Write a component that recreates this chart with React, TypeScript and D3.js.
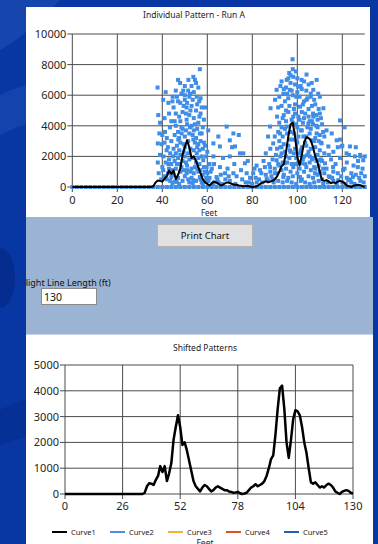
import { useEffect, useRef } from "react"
import * as d3 from "d3"

// curve1: averaged pattern, one reading per foot (0..130)
const curveFeet = d3.range(0, 131)
const curve1 = [
  0, 0, 0, 0, 0, 0, 0, 0, 0, 0,
  0, 0, 0, 0, 0, 0, 0, 0, 0, 0,
  0, 0, 0, 0, 0, 0, 0, 0, 0, 0,
  0, 0, 0, 0, 0, 0, 50, 300, 420, 400,
  350, 550, 700, 1080, 850, 1080, 500, 800, 1200, 2100,
  2600, 3050, 2600, 1900, 2000, 1700, 1300, 900, 500, 300,
  200, 100, 250, 350, 300, 200, 100, 150, 250, 300,
  250, 200, 150, 150, 100, 80, 50, 60, 80, 30,
  0, 20, 50, 150, 250, 300, 380, 300, 350, 400,
  500, 700, 1000, 1350, 1500, 2300, 3300, 4100, 4200, 3300,
  2000, 1400, 2100, 2900, 3250, 3200, 3050, 2600, 2000, 1600,
  1000, 450, 400, 450, 350, 250, 300, 250, 350, 400,
  350, 250, 100, 50, 0, 80, 120, 150, 120, 50,
  20,
]

// individual readings of Run A [feet, value]
const zeroFeet = [
  0, 2, 4, 6, 8, 10, 12, 14, 16, 18, 20, 22, 24, 26, 28, 30, 32, 34, 36, 38,
  40, 42, 44, 46, 48, 50, 52, 54, 56, 58, 60, 62, 64, 66, 68, 70, 72, 74, 76, 78,
  80, 82, 84, 86, 88, 90, 92, 94, 96, 98, 100, 102, 104, 106, 108, 110, 112, 114,
  116, 118, 120, 122, 124, 126, 128, 130,
]
const runA: [number, number][] = [
  [37.9, 6500], [41.5, 6200], [38.2, 4700], [38.7, 3500], [38, 2850], [38, 1600], [38.4, 900],
  [40.4, 5700], [42.7, 5500], [44.6, 5900], [43.4, 3900], [41.2, 3600], [39.7, 2800], [41.9, 2400],
  [44.9, 2000], [42.7, 1500], [40.4, 1100], [44, 650], [47.9, 6800], [49.3, 6300], [50, 5700],
  [50.8, 5200], [51.6, 7000], [52.3, 6100], [53, 6600], [53.8, 7200], [55.3, 5900], [56.7, 7700],
  [54.5, 7000], [56.4, 5600], [50.8, 4400], [52.3, 3900], [48.6, 3500], [47.1, 3100], [50, 2600],
  [53.8, 3100], [56.7, 3500], [55.3, 2200], [58.2, 1750], [59.7, 1300], [60.4, 3700], [47.9, 1500],
  [50.8, 900], [53.8, 450], [56.7, 650], [46.4, 330], [62.7, 2000], [62.7, 2850], [64.9, 3300],
  [65.6, 2650], [68.6, 3950], [70, 3050], [71.6, 3500], [70, 2000], [72.3, 2650], [74.5, 2200],
  [76.7, 1550], [77.5, 900], [65.6, 1300], [67.9, 900], [71.6, 900], [64.1, 650], [59.7, 450],
  [80.4, 900], [83.4, 1100], [81.9, 1400], [85.6, 1300], [86.4, 550],
  [45, 5200], [46, 4800], [47, 5600], [48, 4300], [49, 4900], [50, 6000], [51, 5500], [52, 4700],
  [53, 5300], [54, 4500], [55, 5000], [56, 4200], [57, 4800], [58, 3900], [46, 4000], [47, 3600],
  [48, 2900], [49, 3800], [50, 3300], [51, 4100], [52, 3500], [53, 4000], [54, 3700], [55, 3200],
  [56, 2800], [57, 3000], [58, 2500], [59, 2700], [44, 3000], [45, 2500], [46, 2200], [47, 1900],
  [48, 2100], [49, 1700], [50, 2000], [51, 1400], [52, 1800], [53, 1200], [54, 2400], [55, 1600],
  [56, 1900], [57, 1100], [58, 800], [59, 1000], [60, 2300], [61, 1500], [43, 1800], [42, 3200],
  [41, 2900], [40, 3400], [39, 2100], [40, 1300], [41, 700], [42, 500], [43, 1200], [44, 1500],
  [45, 800], [46, 1200], [47, 600], [48, 1000], [49, 400], [50, 700], [51, 1100], [52, 300],
  [53, 600], [54, 900], [55, 400], [56, 1000], [57, 500], [58, 200], [60, 900], [61, 600],
  [62, 1200], [63, 300], [39, 4200], [41, 4500], [43, 4800], [44, 4300], [46, 6300], [48, 5500],
  [52, 5900], [54, 6200], [56, 6500], [57, 5800], [59, 5200], [55, 6800], [50, 6600], [47, 7000],
  [44.5, 5600], [45.5, 4300], [46.5, 5900], [47.5, 4600], [48.5, 6100], [49.5, 5300], [50.5, 4800],
  [51.5, 6300], [52.5, 5000], [53.5, 5700], [54.5, 4100], [55.5, 5400], [56.5, 4600], [57.5, 5200],
  [58.5, 4400], [45.5, 3400], [46.5, 2700], [47.5, 3200], [48.5, 3900], [49.5, 2800], [50.5, 3700],
  [51.5, 3000], [52.5, 2500], [53.5, 3400], [54.5, 2900], [55.5, 3800], [56.5, 2400], [57.5, 3500],
  [58.5, 2900], [59.5, 2000], [42.5, 2600], [43.5, 2200], [44.5, 1100], [45.5, 1700], [46.5, 1500],
  [47.5, 2400], [48.5, 1300], [49.5, 2300], [50.5, 1600], [51.5, 2200], [52.5, 1000], [53.5, 1900],
  [54.5, 1300], [55.5, 2600], [56.5, 1500], [57.5, 2000], [58.5, 1300], [59.5, 600], [39.5, 500],
  [40.5, 2000], [41.5, 1600], [42.5, 900], [43.5, 400], [44.5, 250], [45.5, 350], [47.5, 200],
  [49.5, 1100], [51.5, 500], [53.5, 250], [55.5, 1200], [57.5, 300], [60.5, 400], [61.5, 1000],
  [63, 1500], [66, 800], [67, 1900], [69, 1200], [71, 2600], [72, 1500], [73, 700], [74, 3400],
  [75, 1100], [76, 2200], [78, 1700], [79, 600], [81, 1200], [82, 300], [84, 900], [85, 1700],
  [86, 2200], [87, 3300], [88, 2500], [65, 300], [68, 500], [70, 400], [77, 300], [80, 200], [83, 500],
  [62.5, 200], [64.5, 500], [66.5, 200], [69.5, 700], [72.5, 200], [75.5, 500], [78.5, 300],
  [81.5, 600], [84.5, 300], [87.5, 1500], [88.5, 700],
  [97.9, 8350], [96.4, 7450], [98.2, 7200], [99.4, 7550], [95.3, 7000], [93, 6900], [90.8, 6350],
  [90.1, 5700], [88.1, 5150], [87.9, 3950], [93.8, 6100], [96.7, 6350], [100.4, 6550], [101.9, 7000],
  [104.1, 7350], [106.4, 6800], [108.6, 7000], [107.1, 6350], [104.1, 5700], [101.2, 5250],
  [109.3, 6100], [111.6, 5150], [110, 4800], [107.1, 4600], [104.9, 4150], [98.2, 4600], [95.3, 3950],
  [92.3, 3500], [89.3, 2850], [93, 2600], [96.7, 2400], [99.7, 3050], [102.7, 3300], [106.4, 3050],
  [108.6, 3500], [110.8, 2850], [113, 3700], [113.8, 2650], [115.3, 3500], [117.5, 3050], [119, 4350],
  [119.7, 2650], [121.9, 2200], [123.4, 2650], [125.6, 2000], [127.9, 2100], [129.3, 1750],
  [126.9, 1300], [128.4, 900], [124.7, 650], [120.3, 1100], [115.9, 1300], [112.3, 1550],
  [109.3, 1750], [105.6, 2000], [102, 1550], [98.2, 1300], [94.5, 1550], [90.8, 1750], [87.9, 1300],
  [90.1, 900], [93.8, 650], [101.2, 650], [107.9, 900], [114.5, 650], [118.2, 450], [122.7, 450],
  [92, 5900], [93, 5300], [94, 6400], [95, 5000], [96, 5800], [97, 6800], [98, 6000], [99, 5400],
  [100, 6200], [101, 5900], [102, 4900], [103, 5600], [104, 6300], [105, 5100], [106, 5900],
  [107, 4800], [108, 5400], [109, 4400], [110, 5900], [91, 4600], [92, 4200], [93, 3900], [94, 4700],
  [95, 4300], [96, 4900], [97, 3600], [98, 4200], [99, 4800], [100, 3900], [101, 4400], [102, 3700],
  [103, 4500], [104, 3300], [105, 4600], [106, 3800], [107, 4100], [108, 3200], [109, 3900],
  [110, 3400], [111, 4100], [112, 3300], [90, 3300], [91, 2500], [92, 3000], [93, 2200], [94, 2800],
  [95, 2000], [96, 2700], [97, 2300], [98, 3100], [99, 2500], [100, 2900], [101, 2200], [102, 2600],
  [103, 2000], [104, 2700], [105, 2300], [106, 2500], [107, 1900], [108, 2600], [109, 2100],
  [110, 2400], [111, 1700], [112, 2200], [89, 1800], [90, 1200], [91, 900], [92, 1400], [93, 1100],
  [94, 800], [95, 1200], [96, 600], [97, 1000], [98, 700], [99, 1500], [100, 900], [101, 1200],
  [102, 500], [103, 1000], [104, 1300], [105, 700], [106, 1100], [107, 600], [108, 1200], [109, 800],
  [110, 1000], [111, 500], [112, 900], [113, 1200], [86, 800], [87, 400], [88, 1000], [89, 500],
  [97, 7300], [99, 6700], [100, 7100], [96, 7100], [98, 7700], [95, 6500], [103, 6900], [105, 6700],
  [102, 6400], [106, 6100],
  [91.5, 5200], [92.5, 6600], [93.5, 4500], [94.5, 5600], [95.5, 6100], [96.5, 5300], [97.5, 6300],
  [98.5, 5100], [99.5, 5900], [100.5, 4600], [101.5, 6600], [102.5, 5400], [103.5, 4800],
  [104.5, 5800], [105.5, 4300], [106.5, 5300], [107.5, 5700], [108.5, 4700], [109.5, 5100],
  [110.5, 4500], [91.5, 3600], [92.5, 2600], [93.5, 3300], [94.5, 3800], [95.5, 3500], [96.5, 3100],
  [97.5, 4400], [98.5, 3500], [99.5, 4100], [100.5, 3300], [101.5, 3700], [102.5, 4200],
  [103.5, 2900], [104.5, 3900], [105.5, 3500], [106.5, 4300], [107.5, 3000], [108.5, 4000],
  [109.5, 3000], [110.5, 2900], [111.5, 3600], [90.5, 2100], [91.5, 1500], [92.5, 2000],
  [93.5, 1600], [94.5, 2300], [95.5, 1600], [96.5, 1900], [97.5, 1500], [98.5, 2200], [99.5, 1900],
  [100.5, 1600], [101.5, 2400], [102.5, 1800], [103.5, 1500], [104.5, 2100], [105.5, 1600],
  [106.5, 1800], [107.5, 1300], [108.5, 1700], [109.5, 1400], [110.5, 1800], [111.5, 1200],
  [89.5, 300], [91.5, 400], [93.5, 300], [95.5, 400], [97.5, 300], [99.5, 200], [101.5, 400],
  [103.5, 300], [105.5, 200], [107.5, 300], [109.5, 400], [111.5, 200], [113.5, 300], [115.5, 600],
  [117.5, 200], [119.5, 700], [121.5, 200], [123.5, 500], [125.5, 200], [127.5, 600], [129.5, 300],
  [114, 2100], [115, 1800], [116, 2300], [117, 1500], [118, 2600], [119, 1900], [120, 2700],
  [121, 1200], [122, 1600], [123, 2100], [124, 900], [125, 1400], [126, 2600], [127, 1700],
  [128, 2000], [129, 1200], [130, 2000], [114, 700], [116, 400], [118, 900], [120, 300], [122, 600],
  [124, 300], [126, 800], [128, 400], [130, 700], [116, 1000], [121, 3900], [119, 3100],
]

const topXTicks = [0, 20, 40, 60, 80, 100, 120]
const topYTicks = [0, 2000, 4000, 6000, 8000, 10000]
const botXTicks = [0, 26, 52, 78, 104, 130]
const botYTicks = [0, 1000, 2000, 3000, 4000, 5000]

const legendNames = ["Curve1", "Curve2", "Curve3", "Curve4", "Curve5"]
const legendColors = ["#000000", "#4a8fe0", "#f2b03c", "#e2502a", "#1d64a8"]

const FONT = "'Noto Sans', 'DejaVu Sans', sans-serif"

const drawAxes = (
  g: d3.Selection<SVGGElement, unknown, null, undefined>,
  x: d3.ScaleLinear<number, number>,
  y: d3.ScaleLinear<number, number>,
  xTicks: number[],
  yTicks: number[],
  labelOffset: number
) => {
  const [x0, x1] = x.range()
  const [y0, y1] = y.range()

  // grid + tick marks
  g.selectAll(".hgrid")
    .data(yTicks)
    .enter()
    .append("line")
    .attr("x1", x0 - 5)
    .attr("x2", x1)
    .attr("y1", (d) => y(d))
    .attr("y2", (d) => y(d))
    .attr("stroke", "#4a4a4a")
    .attr("stroke-width", 1)

  g.selectAll(".vgrid")
    .data(xTicks)
    .enter()
    .append("line")
    .attr("x1", (d) => x(d))
    .attr("x2", (d) => x(d))
    .attr("y1", y1)
    .attr("y2", y0 + 5)
    .attr("stroke", "#4a4a4a")
    .attr("stroke-width", 1)

  g.selectAll(".ylab")
    .data(yTicks)
    .enter()
    .append("text")
    .attr("x", x0 - 6)
    .attr("y", (d) => y(d) + 4)
    .attr("text-anchor", "end")
    .attr("font-family", FONT)
    .attr("font-size", 11)
    .attr("fill", "#262626")
    .text((d) => String(d))

  g.selectAll(".xlab")
    .data(xTicks)
    .enter()
    .append("text")
    .attr("x", (d) => x(d))
    .attr("y", y0 + labelOffset)
    .attr("text-anchor", "middle")
    .attr("font-family", FONT)
    .attr("font-size", 11)
    .attr("fill", "#262626")
    .text((d) => String(d))
}

const App = () => {
  const ref = useRef<SVGSVGElement>(null)

  useEffect(() => {
    if (!ref.current) return
    const svg = d3.select(ref.current)
    svg.selectAll("*").remove()

    // page background with soft swooshes
    svg.append("rect").attr("width", 378).attr("height", 544).attr("fill", "#0837a3")
    svg.append("path")
      .attr("d", "M0,0 L60,0 C40,20 20,40 0,50 Z")
      .attr("fill", "#1f4fb4").attr("opacity", 0.6)
    svg.append("path")
      .attr("d", "M0,95 C20,85 40,80 60,78 L60,120 C40,118 20,125 0,135 Z")
      .attr("fill", "#1c4bb2").attr("opacity", 0.6)
    svg.append("ellipse")
      .attr("cx", 0).attr("cy", 278).attr("rx", 15).attr("ry", 30)
      .attr("fill", "#042b8a").attr("opacity", 0.8)
    svg.append("path")
      .attr("d", "M0,410 C20,400 40,395 60,393 L60,430 C40,432 20,438 0,445 Z")
      .attr("fill", "#042c8e").attr("opacity", 0.6)

    // panels
    svg.append("rect").attr("x", 26).attr("y", 7).attr("width", 344).attr("height", 210).attr("fill", "#ffffff")
    svg.append("rect").attr("x", 26).attr("y", 217).attr("width", 347).attr("height", 117).attr("fill", "#9cb4d3")
    svg.append("rect").attr("x", 26).attr("y", 334).attr("width", 347).attr("height", 210).attr("fill", "#ffffff")
    svg.append("line").attr("x1", 26).attr("x2", 373).attr("y1", 334.5).attr("y2", 334.5).attr("stroke", "#c7d4e6")

    // ---------- top chart ----------
    const xTop = d3.scaleLinear().domain([0, 130]).range([72.3, 364.8])
    const yTop = d3.scaleLinear().domain([0, 10000]).range([187, 34])
    const gTop = svg.append("g")
    drawAxes(gTop, xTop, yTop, topXTicks, topYTicks, 17)

    const pts = zeroFeet.map((f) => [f, 0] as [number, number]).concat(runA)
    gTop.selectAll(".pt")
      .data(pts)
      .enter()
      .append("rect")
      .attr("x", (d) => xTop(d[0]) - 2)
      .attr("y", (d) => yTop(d[1]) - 2)
      .attr("width", 4)
      .attr("height", 4)
      .attr("fill", "#3f8de6")

    const lineTop = d3.line<number>()
      .x((_, i) => xTop(curveFeet[i]))
      .y((d) => yTop(d))
    gTop.append("path")
      .attr("d", lineTop(curve1))
      .attr("fill", "none")
      .attr("stroke", "#000")
      .attr("stroke-width", 2)
      .attr("stroke-linejoin", "round")

    gTop.append("text")
      .attr("x", 194).attr("y", 18)
      .attr("text-anchor", "middle")
      .attr("font-family", FONT).attr("font-size", 8.5).attr("fill", "#222")
      .text("Individual Pattern - Run A")
    gTop.append("text")
      .attr("x", 209).attr("y", 215.5)
      .attr("text-anchor", "middle")
      .attr("font-family", FONT).attr("font-size", 8).attr("fill", "#222")
      .text("Feet")

    // ---------- middle controls ----------
    const defs = svg.append("defs")
    defs.append("clipPath").attr("id", "mid").append("rect")
      .attr("x", 26).attr("y", 217).attr("width", 347).attr("height", 117)
    const mid = svg.append("g").attr("clip-path", "url(#mid)")
    mid.append("rect")
      .attr("x", 157.5).attr("y", 224.5).attr("width", 95).attr("height", 22)
      .attr("fill", "#e1e1e1").attr("stroke", "#b4b4b4")
    mid.append("text")
      .attr("x", 205).attr("y", 239)
      .attr("text-anchor", "middle")
      .attr("font-family", FONT).attr("font-size", 9.5).attr("fill", "#111")
      .text("Print Chart")
    mid.append("text")
      .attr("x", 21).attr("y", 286)
      .attr("font-family", FONT).attr("font-size", 9).attr("fill", "#111")
      .text("Flight Line Length (ft)")
    mid.append("rect")
      .attr("x", 41.5).attr("y", 288.5).attr("width", 55).attr("height", 16)
      .attr("fill", "#fff").attr("stroke", "#8a8a8a")
    mid.append("text")
      .attr("x", 44).attr("y", 301)
      .attr("font-family", FONT).attr("font-size", 10.5).attr("fill", "#111")
      .text("130")

    // ---------- bottom chart ----------
    const xBot = d3.scaleLinear().domain([0, 130]).range([65, 353])
    const yBot = d3.scaleLinear().domain([0, 5000]).range([494, 365])
    const gBot = svg.append("g")
    drawAxes(gBot, xBot, yBot, botXTicks, botYTicks, 16)

    const lineBot = d3.line<number>()
      .x((_, i) => xBot(curveFeet[i]))
      .y((d) => yBot(d))
    gBot.append("path")
      .attr("d", lineBot(curve1))
      .attr("fill", "none")
      .attr("stroke", "#000")
      .attr("stroke-width", 2.5)
      .attr("stroke-linejoin", "round")

    gBot.append("text")
      .attr("x", 205).attr("y", 351)
      .attr("text-anchor", "middle")
      .attr("font-family", FONT).attr("font-size", 8.5).attr("fill", "#222")
      .text("Shifted Patterns")

    const leg = gBot.selectAll(".leg")
      .data(legendNames)
      .enter()
      .append("g")
      .attr("transform", (_, i) => `translate(${52 + i * 58},532)`)
    leg.append("line")
      .attr("x1", 0).attr("x2", 15)
      .attr("stroke", (_, i) => legendColors[i])
      .attr("stroke-width", 2)
    leg.append("text")
      .attr("x", 19).attr("y", 3)
      .attr("font-family", FONT).attr("font-size", 7.5).attr("fill", "#222")
      .text((d) => d)

    gBot.append("text")
      .attr("x", 205).attr("y", 546)
      .attr("text-anchor", "middle")
      .attr("font-family", FONT).attr("font-size", 8.5).attr("fill", "#222")
      .text("Feet")
  }, [])

  return (
    <svg
      ref={ref}
      width={378}
      height={544}
      style={{ position: "absolute", left: 0, top: 0, display: "block" }}
    />
  )
}

export default App
